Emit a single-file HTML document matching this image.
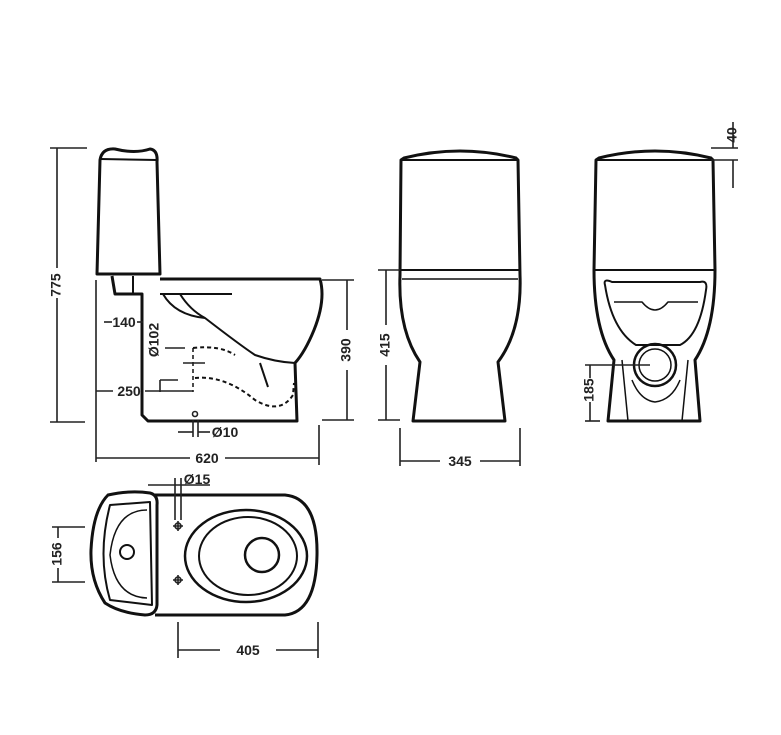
<!DOCTYPE html>
<html><head><meta charset="utf-8"><style>
html,body{margin:0;padding:0;background:#fff;}
svg{display:block}
text{font-family:"Liberation Sans",sans-serif;font-weight:bold;font-size:14px;fill:#222}
</style></head><body>
<svg width="781" height="735" viewBox="0 0 781 735" xmlns="http://www.w3.org/2000/svg">
<g fill="none" stroke="#111" stroke-width="3" stroke-linejoin="round">
<!-- SIDE VIEW -->
<path d="M97,274 L100,160 Q102,148 115,149 Q135,154 150,149 Q158,150 157,162 L160,274 Z"/>
<line x1="100" y1="159" x2="157" y2="160" stroke-width="2"/>
<path d="M160,279 L320,279 Q326,300 314,330 Q305,352 295,363 L297,421 L148,421 L142,415 L142,294 L115,294 L112,276"/>
<line x1="133" y1="276" x2="133" y2="294" stroke-width="2"/>
<path d="M163,294 Q175,315 205,318 Q240,345 255,355 Q275,362 295,363" stroke-width="2"/>
<path d="M180,294 Q190,310 205,318" stroke-width="2"/>
<line x1="160" y1="294" x2="232" y2="294" stroke-width="2"/>
<path d="M260,363 L268,387" stroke-width="2"/>
<path d="M193,348 Q220,345 235,355" stroke-width="2" stroke-dasharray="4,3"/>
<path d="M195,378 Q225,375 255,400 Q280,415 293,395 L294,383" stroke-width="2" stroke-dasharray="4,3"/>
<line x1="193" y1="348" x2="193" y2="392" stroke-width="1.5" stroke-dasharray="4,3"/>
<!-- FRONT VIEW -->
<path d="M404,158 Q460,144 516,158 L518,160 L520,275 Q522,330 498,362 L505,421 L413,421 L420,362 Q398,330 400,275 L401,160 Z"/>
<line x1="401" y1="160" x2="518" y2="160" stroke-width="2"/>
<line x1="400" y1="270" x2="520" y2="270" stroke-width="2"/>
<line x1="402" y1="279" x2="518" y2="279" stroke-width="1.5"/>
<!-- BACK VIEW -->
<path d="M599,158 Q655,144 711,158 L713,160 L715,270 Q715,330 695,360 L700,421 L608,421 L614,360 Q594,330 594,270 L596,160 Z"/>
<line x1="596" y1="160" x2="713" y2="160" stroke-width="2"/>
<line x1="594" y1="270" x2="715" y2="270" stroke-width="2"/>
<path d="M605,285 Q603,278 612,282 L700,282 Q708,280 706,290 Q700,335 680,345 L636,345 Q612,330 605,285 Z" stroke-width="2"/>
<path d="M614,302 L642,302 Q655,318 668,302 L698,302" stroke-width="1.5"/>
<circle cx="655" cy="365" r="21" stroke-width="2.5"/>
<circle cx="655" cy="365" r="16" stroke-width="1.5"/>
<path d="M632,380 Q640,400 655,402 Q672,400 680,380" stroke-width="1.5"/>
<line x1="622" y1="360" x2="628" y2="421" stroke-width="1.5"/>
<line x1="688" y1="360" x2="682" y2="421" stroke-width="1.5"/>
<!-- TOP VIEW -->
<path d="M155,495 L285,495 Q318,498 317,555 Q316,612 285,615 L155,615" />
<path d="M108,495 Q130,490 150,493 Q158,495 157,505 L157,605 Q156,615 145,615 Q120,613 105,603 Q90,580 91,550 Q93,510 108,495 Z"/>
<path d="M110,505 L150,502 L152,605 L110,600 Q97,555 110,505 Z" stroke-width="2"/>
<path d="M147,510 Q115,510 110,555 Q115,597 147,598" stroke-width="1.5"/>
<circle cx="127" cy="552" r="7" stroke-width="2"/>
<ellipse cx="246" cy="556" rx="61" ry="46" stroke-width="2.5"/>
<ellipse cx="248" cy="556" rx="49" ry="39" stroke-width="2"/>
<circle cx="262" cy="555" r="17" stroke-width="2.5"/>
</g>
<!-- dimension lines -->
<g stroke="#222" stroke-width="1.6" fill="none">
<line x1="57" y1="148" x2="57" y2="268"/><line x1="57" y1="298" x2="57" y2="422"/>
<line x1="50" y1="148" x2="87" y2="148"/><line x1="50" y1="422" x2="85" y2="422"/>
<line x1="347" y1="280" x2="347" y2="330"/><line x1="347" y1="370" x2="347" y2="420"/>
<line x1="322" y1="280" x2="354" y2="280"/><line x1="322" y1="420" x2="354" y2="420"/>
<line x1="96" y1="280" x2="96" y2="462"/><line x1="319" y1="425" x2="319" y2="465"/>
<line x1="96" y1="458" x2="190" y2="458"/><line x1="225" y1="458" x2="319" y2="458"/>
<line x1="104" y1="322" x2="112" y2="322"/><line x1="137" y1="322" x2="143" y2="322"/>
<line x1="96" y1="391" x2="113" y2="391"/><line x1="145" y1="391" x2="193" y2="391"/>
<line x1="160" y1="380" x2="160" y2="392"/><line x1="160" y1="380" x2="178" y2="380"/>
<line x1="183" y1="363" x2="205" y2="363"/><line x1="165" y1="348" x2="185" y2="348"/>
<circle cx="195" cy="414" r="2.5"/>
<line x1="193" y1="420" x2="193" y2="437"/><line x1="198" y1="420" x2="198" y2="437"/>
<line x1="178" y1="432" x2="193" y2="432"/><line x1="198" y1="432" x2="210" y2="432"/>
<line x1="386" y1="270" x2="386" y2="325"/><line x1="386" y1="365" x2="386" y2="420"/>
<line x1="378" y1="270" x2="400" y2="270"/><line x1="378" y1="420" x2="400" y2="420"/>
<line x1="400" y1="428" x2="400" y2="466"/><line x1="520" y1="428" x2="520" y2="466"/>
<line x1="400" y1="461" x2="440" y2="461"/><line x1="480" y1="461" x2="520" y2="461"/>
<line x1="733" y1="122" x2="733" y2="148"/><line x1="733" y1="160" x2="733" y2="188"/>
<line x1="711" y1="148" x2="738" y2="148"/><line x1="711" y1="160" x2="738" y2="160"/>
<line x1="590" y1="365" x2="590" y2="378"/><line x1="590" y1="402" x2="590" y2="421"/>
<line x1="585" y1="365" x2="650" y2="365"/><line x1="585" y1="421" x2="600" y2="421"/>
<line x1="58" y1="527" x2="58" y2="538"/><line x1="58" y1="568" x2="58" y2="582"/>
<line x1="52" y1="527" x2="85" y2="527"/><line x1="52" y1="582" x2="85" y2="582"/>
<line x1="178" y1="622" x2="178" y2="658"/><line x1="318" y1="622" x2="318" y2="658"/>
<line x1="178" y1="650" x2="220" y2="650"/><line x1="276" y1="650" x2="318" y2="650"/>
<line x1="175" y1="478" x2="175" y2="520"/><line x1="181" y1="478" x2="181" y2="520"/>
<line x1="148" y1="485" x2="210" y2="485"/>
<path d="M173,526 L183,526 M178,521 L178,531 M173,580 L183,580 M178,575 L178,585"/>
<circle cx="178" cy="526" r="3"/><circle cx="178" cy="580" r="3"/>
</g>
<text x="57" y="285" transform="rotate(-90 57 285)" text-anchor="middle" dominant-baseline="middle">775</text>
<text x="347" y="350" transform="rotate(-90 347 350)" text-anchor="middle" dominant-baseline="middle">390</text>
<text x="386" y="345" transform="rotate(-90 386 345)" text-anchor="middle" dominant-baseline="middle">415</text>
<text x="733" y="135" transform="rotate(-90 733 135)" text-anchor="middle" dominant-baseline="middle" font-size="12">40</text>
<text x="590" y="390" transform="rotate(-90 590 390)" text-anchor="middle" dominant-baseline="middle">185</text>
<text x="58" y="554" transform="rotate(-90 58 554)" text-anchor="middle" dominant-baseline="middle">156</text>
<text x="155" y="340" transform="rotate(-90 155 340)" text-anchor="middle" dominant-baseline="middle" font-size="13">Ø102</text>
<text x="124" y="327" text-anchor="middle">140</text>
<text x="129" y="396" text-anchor="middle">250</text>
<text x="225" y="437" text-anchor="middle">Ø10</text>
<text x="207" y="463" text-anchor="middle">620</text>
<text x="460" y="466" text-anchor="middle">345</text>
<text x="197" y="484" text-anchor="middle">Ø15</text>
<text x="248" y="655" text-anchor="middle">405</text>
</svg>
</body></html>
